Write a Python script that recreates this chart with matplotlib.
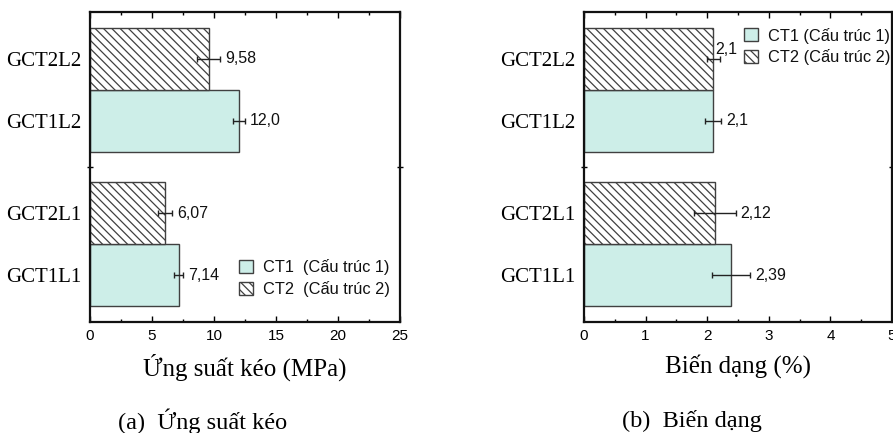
import matplotlib
matplotlib.use("Agg")
import matplotlib.pyplot as plt
from matplotlib.patches import Patch
from matplotlib.ticker import MultipleLocator, FixedLocator

plt.rcParams['hatch.linewidth'] = 0.9
plt.rcParams['hatch.color'] = '#3a3a3a'

categories = ["GCT1L1", "GCT2L1", "GCT1L2", "GCT2L2"]
structure = ["CT1", "CT2", "CT1", "CT2"]
stress = [7.14, 6.07, 12.0, 9.58]
stress_err = [0.40, 0.55, 0.50, 0.93]
stress_labels = ["7,14", "6,07", "12,0", "9,58"]
strain = [2.39, 2.12, 2.10, 2.10]
strain_err = [0.31, 0.34, 0.13, 0.11]
strain_labels = ["2,39", "2,12", "2,1", "2,1"]
legend_left = ["CT1  (Cấu trúc 1)", "CT2  (Cấu trúc 2)"]
legend_right = ["CT1 (Cấu trúc 1)", "CT2 (Cấu trúc 2)"]

positions = [0, 1, 2.5, 3.5]
FILL = '#cdeee8'
EDGE = '#404040'
serif = ['Liberation Serif', 'DejaVu Serif']
sans = ['Liberation Sans', 'DejaVu Sans']

fig = plt.figure(figsize=(8.93, 4.33), dpi=100)
W, H = 893, 433
ax1 = fig.add_axes([90 / W, (H - 322) / H, 310 / W, 310 / H])
ax2 = fig.add_axes([584 / W, (H - 322) / H, 308 / W, 310 / H])


def draw(ax, vals, errs, labels, xmax, major, minor, leg_labels, leg_loc, special=None):
    for i, (p, v, e, s) in enumerate(zip(positions, vals, errs, structure)):
        if s == "CT1":
            ax.barh(p, v, height=1.0, color=FILL, edgecolor=EDGE, linewidth=1.0, zorder=2)
        else:
            ax.barh(p, v, height=1.0, color='white', edgecolor=EDGE, linewidth=1.0,
                    hatch='\\\\\\\\', zorder=2)
        ax.errorbar(v, p, xerr=e, fmt='none', ecolor='#222222', elinewidth=1.0,
                    capsize=2, capthick=1.0, zorder=3)
        dx, dy = 5, 0
        if special is not None and i == special:
            dx, dy = -5, 9
        ax.annotate(labels[i], xy=(v + e, p), xytext=(dx, dy), textcoords='offset pixels',
                    ha='left', va='center', fontsize=11.5, family=sans, color='#111111', zorder=4)
    ax.set_xlim(0, xmax)
    ax.set_ylim(-0.758, 4.258)
    ax.xaxis.set_major_locator(MultipleLocator(major))
    ax.xaxis.set_minor_locator(MultipleLocator(minor))
    ax.set_yticks(positions)
    ax.set_yticklabels(categories, fontsize=15, family=serif)
    ax.yaxis.set_minor_locator(FixedLocator([1.75]))
    ax.tick_params(axis='y', which='major', length=0, pad=6)
    ax.tick_params(axis='y', which='minor', length=5, width=1.0, direction='inout',
                   left=True, right=True)
    ax.tick_params(axis='x', which='major', length=4, width=1.0, direction='in',
                   top=True, bottom=True, labelsize=11, pad=5)
    ax.tick_params(axis='x', which='minor', length=2.5, width=1.0, direction='in',
                   top=True, bottom=True)
    for lab in ax.get_xticklabels():
        lab.set_family(sans)
    for sp in ax.spines.values():
        sp.set_linewidth(1.6)
        sp.set_color('#111111')
    handles = [Patch(facecolor=FILL, edgecolor=EDGE, linewidth=1.0),
               Patch(facecolor='white', edgecolor=EDGE, linewidth=1.0, hatch='\\\\\\\\')]
    leg = ax.legend(handles, leg_labels, loc=leg_loc[0], bbox_to_anchor=leg_loc[1],
                    frameon=False, prop={'family': sans, 'size': 11.8},
                    handlelength=0.85, handleheight=0.85, handletextpad=0.6,
                    labelspacing=0.35, borderpad=0.0, borderaxespad=0.0)
    for t in leg.get_texts():
        t.set_color('#111111')


draw(ax1, stress, stress_err, stress_labels, 25, 5, 2.5, legend_left,
     ('lower left', (0.48, 0.08)))
draw(ax2, strain, strain_err, strain_labels, 5, 1, 0.5, legend_right,
     ('upper left', (0.52, 0.95)), special=3)

ax1.set_xlabel("Ứng suất kéo (MPa)", fontsize=18, family=serif, labelpad=8)
ax2.set_xlabel("Biến dạng (%)", fontsize=18, family=serif, labelpad=8)

fig.text(203 / W, 1 - 421 / H, "(a)  Ứng suất kéo", ha='center', va='center',
         fontsize=17.5, family=serif)
fig.text(692 / W, 1 - 421 / H, "(b)  Biến dạng", ha='center', va='center',
         fontsize=17.5, family=serif)

fig.savefig("out.png", dpi=100)
